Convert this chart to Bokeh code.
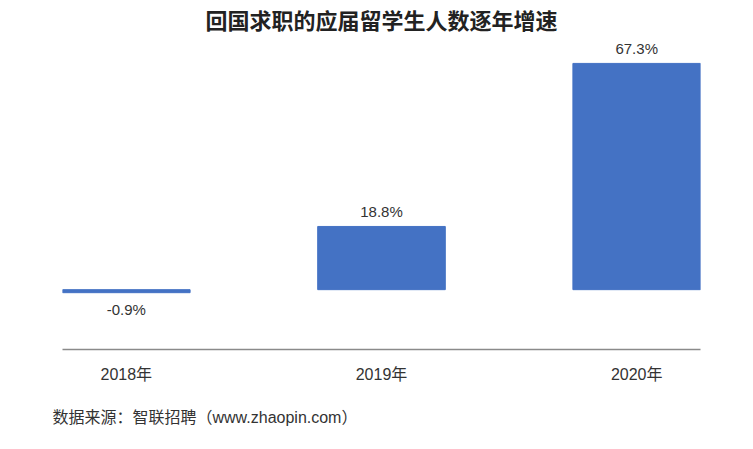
from bokeh.core.properties import value
from bokeh.embed import file_html
from bokeh.models import ColumnDataSource, FixedTicker, LinearAxis, Range1d, Title
from bokeh.plotting import figure
from bokeh.resources import INLINE

# data
years = ["2018年", "2019年", "2020年"]
growth = [-0.9, 18.8, 67.3]
labels = ["-0.9%", "18.8%", "67.3%"]

FONT = "Liberation Sans, Noto Sans CJK SC"
BLUE = "#4472C4"

xs = list(range(len(years)))
source = ColumnDataSource(data=dict(
    x=xs,
    top=growth,
    label=labels,
    # label above positive bars, below negative ones (screen y points down)
    off=[8 if g < 0 else -6 for g in growth],
    base=["top" if g < 0 else "bottom" for g in growth],
))

p = figure(
    width=737, height=446,
    x_range=Range1d(-0.25, 2.25), y_range=Range1d(-17.8, 75.9),
    output_backend="svg", toolbar_location=None,
    x_axis_location=None, y_axis_location=None,
    min_border_left=62, min_border_right=37,
    min_border_top=34, min_border_bottom=96,
)
p.outline_line_color = None
p.grid.grid_line_color = None

p.title.text = "回国求职的应届留学生人数逐年增速"
p.title.align = "center"
p.title.text_font = "Noto Sans CJK SC"
p.title.text_font_size = "22px"
p.title.text_font_style = "bold"
p.title.text_color = "#222222"
p.title.standoff = 0

p.vbar(x="x", top="top", bottom=0, width=0.5, source=source,
       fill_color=BLUE, line_color=BLUE)

p.text(x="x", y="top", text="label", source=source, y_offset="off",
       text_baseline="base", text_align="center",
       text_font=value(FONT), text_font_size="15px", text_color="#333333")

xaxis = LinearAxis(ticker=FixedTicker(ticks=xs),
                   major_label_overrides={i: y for i, y in zip(xs, years)})
xaxis.axis_line_color = "#8a8a8a"
xaxis.axis_line_width = 1.5
xaxis.major_tick_line_color = None
xaxis.minor_tick_line_color = None
xaxis.major_label_standoff = 10
xaxis.major_label_text_font = FONT
xaxis.major_label_text_font_size = "16px"
xaxis.major_label_text_color = "#333333"
p.add_layout(xaxis, "below")

note = Title(text="数据来源：智联招聘（www.zhaopin.com）", align="left",
             offset=-10, standoff=42,
             text_font=FONT, text_font_size="16px",
             text_font_style="normal", text_color="#333333")
p.add_layout(note, "below")

open("out.html", "w").write(file_html(p, INLINE))
